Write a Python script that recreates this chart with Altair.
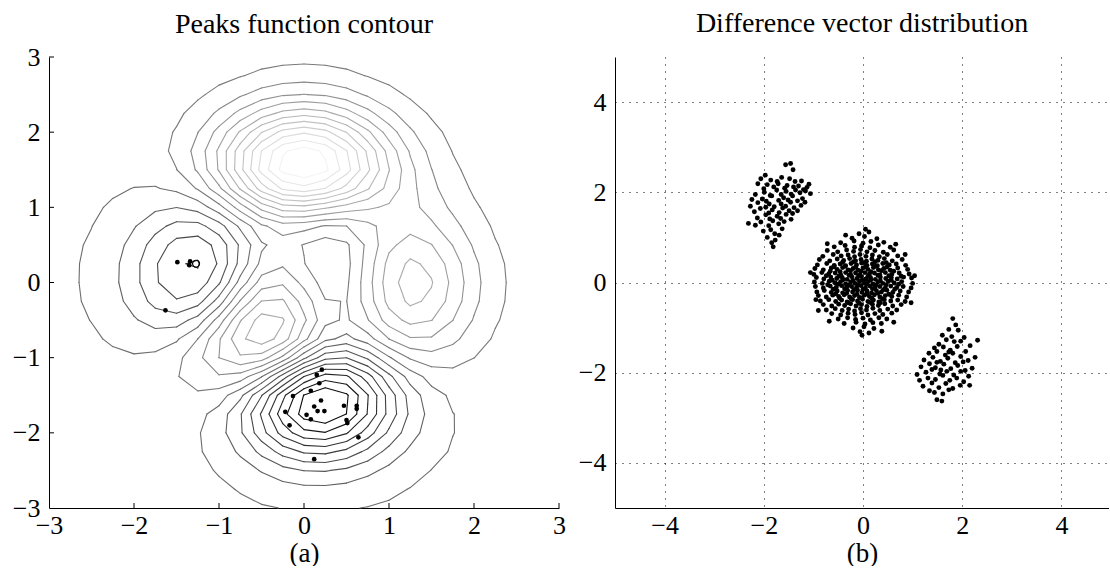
import numpy as np
import pandas as pd
import altair as alt

FONT = "Liberation Serif"

# ---------------- data ----------------
# grid coordinates of the sampled peaks surface (x and y)
GRID = [-3.0, -2.75, -2.5, -2.25, -2.0, -1.75, -1.5, -1.25, -1.0, -0.75, -0.5, -0.25,
        0.0, 0.25, 0.5, 0.75, 1.0, 1.25, 1.5, 1.75, 2.0, 2.25, 2.5, 2.75, 3.0]

# surface values, one row per y in GRID (from y=-3 up to y=3), columns follow x in GRID
PEAKS_Z = [
    [0.00, 0.00, 0.00, 0.00, 0.00, 0.01, 0.00, -0.01, -0.03, -0.08, -0.14, -0.20, -0.24, -0.25, -0.22, -0.17, -0.11, -0.06, -0.03, -0.01, -0.00, -0.00, -0.00, -0.00, -0.00],
    [0.00, 0.00, 0.00, 0.00, 0.01, 0.01, 0.00, -0.02, -0.10, -0.22, -0.39, -0.56, -0.68, -0.69, -0.61, -0.46, -0.30, -0.17, -0.08, -0.03, -0.01, -0.00, -0.00, -0.00, -0.00],
    [0.00, 0.00, 0.00, 0.01, 0.01, 0.02, 0.00, -0.07, -0.23, -0.53, -0.92, -1.31, -1.57, -1.60, -1.41, -1.06, -0.69, -0.38, -0.18, -0.08, -0.03, -0.01, -0.00, -0.00, -0.00],
    [0.00, 0.00, 0.01, 0.01, 0.03, 0.04, 0.01, -0.12, -0.44, -0.99, -1.74, -2.51, -3.02, -3.10, -2.72, -2.05, -1.32, -0.73, -0.35, -0.14, -0.05, -0.01, -0.00, 0.00, 0.00],
    [0.00, 0.00, 0.01, 0.02, 0.05, 0.07, 0.05, -0.13, -0.59, -1.45, -2.64, -3.88, -4.76, -4.93, -4.35, -3.27, -2.10, -1.15, -0.53, -0.20, -0.06, -0.01, 0.00, 0.00, 0.00],
    [0.00, 0.00, 0.01, 0.03, 0.07, 0.13, 0.15, 0.02, -0.46, -1.48, -3.00, -4.70, -5.97, -6.33, -5.64, -4.24, -2.69, -1.42, -0.61, -0.20, -0.04, 0.00, 0.01, 0.00, 0.00],
    [-0.00, 0.00, 0.01, 0.03, 0.08, 0.19, 0.33, 0.39, 0.15, -0.68, -2.19, -4.08, -5.68, -6.33, -5.76, -4.32, -2.63, -1.27, -0.44, -0.07, 0.04, 0.05, 0.03, 0.01, 0.00],
    [-0.00, -0.01, -0.01, -0.01, 0.03, 0.17, 0.45, 0.84, 1.11, 0.88, -0.14, -1.84, -3.60, -4.60, -4.40, -3.22, -1.74, -0.56, 0.08, 0.27, 0.23, 0.13, 0.06, 0.02, 0.01],
    [-0.01, -0.02, -0.06, -0.10, -0.13, -0.04, 0.30, 0.98, 1.86, 2.45, 2.22, 1.00, -0.72, -2.02, -2.22, -1.43, -0.27, 0.58, 0.88, 0.77, 0.50, 0.26, 0.11, 0.04, 0.01],
    [-0.02, -0.05, -0.12, -0.25, -0.42, -0.51, -0.28, 0.49, 1.78, 3.09, 3.63, 2.94, 1.40, -0.00, -0.41, 0.20, 1.18, 1.79, 1.78, 1.35, 0.82, 0.41, 0.18, 0.06, 0.02],
    [-0.03, -0.08, -0.20, -0.44, -0.80, -1.16, -1.21, -0.60, 0.80, 2.49, 3.55, 3.30, 2.00, 0.70, 0.39, 1.14, 2.20, 2.76, 2.56, 1.87, 1.12, 0.56, 0.24, 0.09, 0.03],
    [-0.03, -0.10, -0.27, -0.60, -1.14, -1.78, -2.16, -1.84, -0.57, 1.23, 2.56, 2.63, 1.58, 0.53, 0.48, 1.50, 2.76, 3.37, 3.09, 2.25, 1.34, 0.67, 0.28, 0.10, 0.03],
    [-0.04, -0.11, -0.30, -0.69, -1.33, -2.14, -2.77, -2.71, -1.65, 0.06, 1.48, 1.75, 0.98, 0.19, 0.37, 1.57, 2.94, 3.58, 3.27, 2.37, 1.41, 0.70, 0.30, 0.11, 0.03],
    [-0.04, -0.11, -0.29, -0.67, -1.32, -2.16, -2.87, -2.98, -2.15, -0.65, 0.68, 1.06, 0.52, -0.03, 0.28, 1.47, 2.76, 3.36, 3.06, 2.22, 1.32, 0.66, 0.28, 0.10, 0.03],
    [-0.03, -0.09, -0.25, -0.57, -1.12, -1.85, -2.49, -2.64, -2.00, -0.76, 0.39, 0.80, 0.46, 0.09, 0.38, 1.34, 2.38, 2.83, 2.56, 1.84, 1.09, 0.54, 0.23, 0.08, 0.03],
    [-0.02, -0.07, -0.18, -0.42, -0.82, -1.33, -1.76, -1.78, -1.16, -0.05, 1.04, 1.55, 1.42, 1.12, 1.17, 1.65, 2.17, 2.32, 1.99, 1.40, 0.82, 0.40, 0.17, 0.06, 0.02],
    [-0.01, -0.04, -0.11, -0.25, -0.48, -0.74, -0.86, -0.60, 0.23, 1.51, 2.79, 3.59, 3.69, 3.34, 2.93, 2.66, 2.43, 2.08, 1.58, 1.04, 0.58, 0.28, 0.11, 0.04, 0.01],
    [-0.01, -0.02, -0.06, -0.12, -0.20, -0.23, -0.05, 0.55, 1.69, 3.29, 4.92, 6.07, 6.39, 5.94, 5.02, 3.97, 2.97, 2.09, 1.35, 0.79, 0.41, 0.19, 0.07, 0.03, 0.01],
    [-0.00, -0.01, -0.02, -0.03, -0.01, 0.11, 0.48, 1.27, 2.61, 4.37, 6.20, 7.54, 8.00, 7.48, 6.25, 4.72, 3.25, 2.05, 1.19, 0.62, 0.29, 0.12, 0.05, 0.02, 0.00],
    [-0.00, -0.00, -0.00, 0.01, 0.07, 0.24, 0.65, 1.43, 2.67, 4.29, 5.96, 7.22, 7.67, 7.19, 5.99, 4.45, 2.96, 1.78, 0.96, 0.47, 0.21, 0.08, 0.03, 0.01, 0.00],
    [0.00, 0.00, 0.01, 0.02, 0.08, 0.23, 0.55, 1.16, 2.10, 3.31, 4.56, 5.51, 5.86, 5.50, 4.57, 3.37, 2.21, 1.29, 0.68, 0.32, 0.13, 0.05, 0.02, 0.00, 0.00],
    [0.00, 0.00, 0.00, 0.02, 0.06, 0.15, 0.36, 0.74, 1.32, 2.07, 2.84, 3.43, 3.65, 3.43, 2.84, 2.09, 1.36, 0.79, 0.41, 0.19, 0.08, 0.03, 0.01, 0.00, 0.00],
    [0.00, 0.00, 0.00, 0.01, 0.03, 0.08, 0.19, 0.39, 0.69, 1.07, 1.47, 1.77, 1.88, 1.77, 1.47, 1.08, 0.70, 0.40, 0.20, 0.09, 0.04, 0.01, 0.00, 0.00, 0.00],
    [0.00, 0.00, 0.00, 0.00, 0.01, 0.04, 0.08, 0.17, 0.30, 0.46, 0.64, 0.77, 0.82, 0.77, 0.64, 0.47, 0.30, 0.17, 0.09, 0.04, 0.02, 0.01, 0.00, 0.00, 0.00],
    [0.00, 0.00, 0.00, 0.00, 0.01, 0.01, 0.03, 0.06, 0.11, 0.17, 0.23, 0.28, 0.30, 0.28, 0.23, 0.17, 0.11, 0.06, 0.03, 0.01, 0.01, 0.00, 0.00, 0.00, 0.00],
]
N_LEVELS = 20

# sample points drawn on the contour panel
LEFT_DOTS = [(-1.49, 0.27), (-1.34, 0.28), (-1.35, 0.23), (-1.63, -0.37),
             (0.21, -1.16), (0.15, -1.23), (0.18, -1.34), (0.08, -1.44), (-0.13, -1.51),
             (0.20, -1.57), (0.12, -1.65), (0.47, -1.64), (0.62, -1.64), (0.62, -1.68),
             (-0.22, -1.72), (0.16, -1.71), (0.24, -1.71), (0.03, -1.76), (0.08, -1.82),
             (0.50, -1.83), (0.51, -1.87), (-0.17, -1.90), (0.64, -2.06), (0.12, -2.35)]
LEFT_OPEN = [(-1.27, 0.25)]

# difference vectors, three clusters
CLUSTER_CENTER = [
    (0.05, 1.18), (-0.08, 1.08), (0.12, 1.12), (-0.22, 0.98), (0.03, 1.02), (0.28, 0.97),
    (-0.45, 0.88), (-0.18, 0.92), (0.00, 0.87), (0.16, 0.91), (0.42, 0.89),
    (-0.58, 0.79), (-0.36, 0.82), (-0.17, 0.78), (-0.03, 0.81), (0.14, 0.77), (0.31, 0.83), (0.55, 0.78),
    (-0.72, 0.71), (-0.51, 0.68), (-0.33, 0.72), (-0.19, 0.69), (-0.05, 0.73), (0.08, 0.68), (0.24, 0.71), (0.41, 0.67), (0.62, 0.72),
    (-0.81, 0.58), (-0.60, 0.62), (-0.44, 0.59), (-0.30, 0.61), (-0.17, 0.57), (-0.06, 0.62), (0.06, 0.58), (0.19, 0.61), (0.33, 0.57), (0.49, 0.62), (0.70, 0.59),
    (-0.88, 0.51), (-0.67, 0.48), (-0.52, 0.52), (-0.39, 0.49), (-0.27, 0.53), (-0.15, 0.48), (-0.04, 0.51), (0.07, 0.47), (0.18, 0.52), (0.30, 0.49), (0.43, 0.53), (0.59, 0.48), (0.79, 0.51),
    (-0.92, 0.39), (-0.73, 0.42), (-0.58, 0.38), (-0.46, 0.41), (-0.35, 0.37), (-0.24, 0.42), (-0.13, 0.39), (-0.03, 0.43), (0.08, 0.38), (0.19, 0.41), (0.29, 0.37), (0.40, 0.42), (0.53, 0.39), (0.67, 0.41), (0.86, 0.38),
    (-0.97, 0.31), (-0.80, 0.28), (-0.64, 0.32), (-0.52, 0.29), (-0.41, 0.33), (-0.30, 0.28), (-0.20, 0.31), (-0.10, 0.27), (0.00, 0.32), (0.10, 0.29), (0.21, 0.33), (0.31, 0.28), (0.42, 0.31), (0.55, 0.27), (0.70, 0.32), (0.90, 0.29),
    (-0.99, 0.18), (-0.83, 0.22), (-0.69, 0.19), (-0.56, 0.21), (-0.45, 0.17), (-0.35, 0.22), (-0.25, 0.18), (-0.15, 0.21), (-0.06, 0.17), (0.04, 0.22), (0.13, 0.19), (0.23, 0.21), (0.34, 0.17), (0.45, 0.22), (0.58, 0.18), (0.73, 0.21), (0.93, 0.19),
    (-0.94, 0.11), (-0.79, 0.08), (-0.65, 0.12), (-0.53, 0.09), (-0.42, 0.11), (-0.32, 0.07), (-0.22, 0.12), (-0.12, 0.09), (-0.03, 0.13), (0.06, 0.08), (0.15, 0.11), (0.25, 0.07), (0.35, 0.12), (0.46, 0.09), (0.57, 0.11), (0.69, 0.08), (0.82, 0.12), (0.98, 0.10),
    (-0.98, 0.01), (-0.82, -0.02), (-0.68, 0.03), (-0.56, -0.01), (-0.45, 0.02), (-0.35, -0.03), (-0.25, 0.01), (-0.16, -0.02), (-0.07, 0.03), (0.02, -0.01), (0.11, 0.02), (0.20, -0.03), (0.30, 0.01), (0.40, -0.02), (0.51, 0.03), (0.63, -0.01), (0.78, 0.02), (1.00, -0.02),
    (-0.96, -0.09), (-0.80, -0.12), (-0.66, -0.08), (-0.54, -0.11), (-0.43, -0.07), (-0.33, -0.12), (-0.23, -0.09), (-0.13, -0.11), (-0.04, -0.07), (0.05, -0.12), (0.14, -0.08), (0.24, -0.11), (0.34, -0.09), (0.45, -0.12), (0.56, -0.08), (0.68, -0.11), (0.81, -0.09), (0.97, -0.12),
    (-0.93, -0.21), (-0.78, -0.18), (-0.64, -0.22), (-0.52, -0.19), (-0.41, -0.23), (-0.31, -0.18), (-0.21, -0.21), (-0.11, -0.17), (-0.02, -0.22), (0.08, -0.19), (0.17, -0.23), (0.27, -0.18), (0.37, -0.21), (0.48, -0.17), (0.60, -0.22), (0.75, -0.19), (0.92, -0.21),
    (-0.90, -0.29), (-0.74, -0.32), (-0.61, -0.28), (-0.49, -0.31), (-0.38, -0.27), (-0.27, -0.32), (-0.17, -0.29), (-0.07, -0.33), (0.03, -0.28), (0.13, -0.31), (0.23, -0.27), (0.34, -0.32), (0.45, -0.29), (0.58, -0.31), (0.72, -0.28), (0.88, -0.32),
    (-0.86, -0.41), (-0.69, -0.38), (-0.55, -0.42), (-0.43, -0.39), (-0.32, -0.43), (-0.21, -0.38), (-0.11, -0.41), (-0.01, -0.37), (0.10, -0.42), (0.21, -0.39), (0.32, -0.43), (0.43, -0.38), (0.56, -0.41), (0.70, -0.39), (0.85, -0.42),
    (-0.80, -0.49), (-0.63, -0.52), (-0.49, -0.48), (-0.37, -0.51), (-0.25, -0.47), (-0.14, -0.52), (-0.03, -0.49), (0.08, -0.53), (0.19, -0.48), (0.31, -0.51), (0.44, -0.47), (0.60, -0.52), (0.77, -0.49),
    (-0.74, -0.61), (-0.56, -0.58), (-0.42, -0.62), (-0.29, -0.59), (-0.17, -0.63), (-0.05, -0.58), (0.07, -0.61), (0.20, -0.57), (0.34, -0.62), (0.50, -0.59), (0.68, -0.61),
    (-0.63, -0.69), (-0.45, -0.72), (-0.30, -0.68), (-0.16, -0.71), (-0.03, -0.67), (0.10, -0.72), (0.24, -0.69), (0.40, -0.71), (0.58, -0.68),
    (-0.50, -0.81), (-0.31, -0.78), (-0.15, -0.82), (0.00, -0.79), (0.15, -0.83), (0.32, -0.78), (0.48, -0.81),
    (-0.38, -0.91), (-0.14, -0.88), (0.04, -0.92), (0.20, -0.89), (0.37, -0.91),
    (-0.20, -1.01), (0.02, -0.98), (0.22, -1.02), (-0.06, -1.09), (0.12, -1.12), (-0.02, -1.17),
    # denser core
    (-0.41, 0.45), (-0.19, 0.46), (0.02, 0.44), (0.24, 0.46), (0.47, 0.44),
    (-0.58, 0.35), (-0.36, 0.36), (-0.15, 0.34), (0.05, 0.35), (0.26, 0.36), (0.48, 0.34),
    (-0.66, 0.25), (-0.46, 0.24), (-0.25, 0.26), (-0.04, 0.25), (0.16, 0.24), (0.37, 0.26), (0.62, 0.25),
    (-0.74, 0.15), (-0.49, 0.14), (-0.28, 0.16), (-0.09, 0.15), (0.10, 0.14), (0.30, 0.16), (0.52, 0.15), (0.77, 0.14),
    (-0.62, 0.05), (-0.40, 0.06), (-0.20, 0.04), (-0.01, 0.05), (0.16, 0.06), (0.35, 0.04), (0.57, 0.05),
    (-0.71, -0.05), (-0.50, -0.04), (-0.29, -0.06), (-0.10, -0.05), (0.07, -0.04), (0.26, -0.06), (0.47, -0.05), (0.72, -0.04),
    (-0.60, -0.15), (-0.37, -0.14), (-0.18, -0.16), (0.00, -0.15), (0.19, -0.14), (0.41, -0.16), (0.64, -0.15),
    (-0.55, -0.25), (-0.33, -0.24), (-0.12, -0.26), (0.08, -0.25), (0.30, -0.24), (0.52, -0.26),
    (-0.47, -0.35), (-0.24, -0.36), (-0.03, -0.34), (0.18, -0.35), (0.39, -0.36),
    (-0.30, -0.45), (-0.08, -0.46), (0.14, -0.44), (0.35, -0.45),
    # scattered outer points
    (-1.06, 0.22), (1.04, 0.15), (-0.95, -0.38), (0.97, -0.45), (-0.72, 0.86), (0.66, 0.85),
    (-0.68, -0.86), (0.62, -0.88), (-0.35, 1.05), (0.38, -1.08), (0.85, 0.62), (-0.90, -0.62),
]
CLUSTER_UPPER_LEFT = [
    (-1.56, 2.61), (-1.46, 2.64), (-1.41, 2.50), (-2.06, 2.30), (-1.97, 2.38), (-2.12, 2.19), (-1.86, 2.27),
    (-1.73, 2.24), (-1.64, 2.33), (-1.48, 2.30), (-1.37, 2.24), (-1.24, 2.25), (-1.09, 2.18),
    (-2.00, 2.08), (-1.93, 2.17), (-1.80, 2.12), (-1.71, 2.19), (-1.58, 2.09), (-1.53, 2.15), (-1.40, 2.12),
    (-1.30, 2.14), (-1.20, 2.06), (-1.13, 2.11),
    (-2.17, 1.95), (-1.99, 2.00), (-1.87, 1.93), (-1.74, 2.05), (-1.65, 1.95), (-1.55, 2.02), (-1.45, 1.96),
    (-1.36, 2.05), (-1.27, 1.99), (-1.16, 2.03), (-1.06, 1.97),
    (-2.24, 1.84), (-2.03, 1.85), (-1.95, 1.80), (-1.84, 1.92), (-1.70, 1.82), (-1.60, 1.88), (-1.51, 1.83),
    (-1.42, 1.92), (-1.32, 1.81), (-1.22, 1.86), (-1.17, 1.78),
    (-2.27, 1.69), (-2.12, 1.77), (-1.96, 1.67), (-1.89, 1.74), (-1.79, 1.68), (-1.65, 1.74), (-1.56, 1.69),
    (-1.46, 1.78), (-1.39, 1.66), (-1.25, 1.71),
    (-2.19, 1.57), (-2.07, 1.64), (-1.90, 1.54), (-1.83, 1.61), (-1.69, 1.55), (-1.62, 1.65), (-1.49, 1.59),
    (-1.42, 1.53), (-1.32, 1.59),
    (-2.13, 1.43), (-1.96, 1.50), (-1.88, 1.41), (-1.73, 1.47), (-1.66, 1.42), (-1.55, 1.51), (-1.45, 1.40),
    (-2.31, 1.31), (-2.17, 1.27), (-2.06, 1.34), (-1.90, 1.26), (-1.82, 1.37), (-1.70, 1.30), (-1.59, 1.35),
    (-2.01, 1.14), (-1.86, 1.17), (-1.78, 1.08), (-1.63, 1.19),
    (-1.93, 1.00), (-1.77, 0.94), (-1.69, 1.05), (-1.84, 0.88), (-1.81, 0.79),
]
CLUSTER_LOWER_RIGHT = [
    (1.81, -0.80), (1.87, -0.94), (1.73, -1.04), (1.92, -1.06), (1.60, -1.17), (1.79, -1.20), (2.04, -1.22),
    (2.31, -1.28), (2.16, -1.40), (1.97, -1.30), (1.84, -1.31), (1.68, -1.27), (1.53, -1.37), (1.44, -1.45),
    (1.62, -1.43), (1.76, -1.50), (1.90, -1.42), (2.07, -1.53), (2.26, -1.66), (1.33, -1.57), (1.49, -1.53),
    (1.66, -1.61), (1.81, -1.57), (1.97, -1.64), (2.12, -1.73),
    (1.23, -1.72), (1.41, -1.66), (1.56, -1.75), (1.71, -1.68), (1.86, -1.78), (2.02, -1.76), (1.17, -1.87),
    (1.34, -1.80), (1.46, -1.89), (1.63, -1.81), (1.77, -1.91), (1.91, -1.84), (2.06, -1.95), (2.20, -1.90),
    (1.09, -2.04), (1.27, -1.99), (1.39, -1.93), (1.55, -2.03), (1.69, -1.97), (1.83, -2.05), (1.97, -1.97),
    (2.13, -2.08), (1.14, -2.17), (1.31, -2.12), (1.46, -2.15), (1.61, -2.06), (1.75, -2.17), (1.89, -2.12),
    (2.03, -2.20), (2.15, -2.28),
    (1.21, -2.30), (1.39, -2.23), (1.53, -2.33), (1.67, -2.24), (1.81, -2.35), (1.96, -2.28), (1.44, -2.44),
    (1.61, -2.47), (1.73, -2.38), (1.49, -2.60), (1.59, -2.63), (1.34, -2.40), (1.57, -1.94), (1.49, -1.77),
    (1.73, -1.54),
]

LEFT_TICKS = [-3, -2, -1, 0, 1, 2, 3]
RIGHT_TICKS = [-4, -2, 0, 2, 4]

# ---------------- contour segments (marching squares on the grid) ----------------
Z = np.array(PEAKS_Z, dtype=float)
g = np.array(GRID, dtype=float)
zmin, zmax = Z.min(), Z.max()
levels = np.linspace(zmin, zmax, N_LEVELS + 2)[1:-1]

rows = []
for k, L in enumerate(levels, start=1):
    v = int(round(255 * k / (N_LEVELS + 1)))
    col = f"#{v:02x}{v:02x}{v:02x}"
    for j in range(len(g) - 1):
        for i in range(len(g) - 1):
            corners = [(Z[j, i], (g[i], g[j])), (Z[j, i + 1], (g[i + 1], g[j])),
                       (Z[j + 1, i + 1], (g[i + 1], g[j + 1])), (Z[j + 1, i], (g[i], g[j + 1]))]
            pts = {}
            for e in range(4):
                za, pa = corners[e]
                zb, pb = corners[(e + 1) % 4]
                if (za > L) != (zb > L):
                    t = (L - za) / (zb - za)
                    pts[e] = (pa[0] + t * (pb[0] - pa[0]), pa[1] + t * (pb[1] - pa[1]))
            pairs = []
            if len(pts) == 2:
                a, b = list(pts.keys())
                pairs = [(a, b)]
            elif len(pts) == 4:
                c = sum(cz for cz, _ in corners) / 4.0
                if (corners[0][0] > L) == (c > L):
                    pairs = [(0, 1), (2, 3)]
                else:
                    pairs = [(0, 3), (1, 2)]
            for a, b in pairs:
                rows.append({"x": pts[a][0], "y": pts[a][1], "x2": pts[b][0], "y2": pts[b][1],
                             "c": col, "lev": k})
seg_df = pd.DataFrame(rows)

ldots = pd.DataFrame(LEFT_DOTS, columns=["x", "y"])
lopen = pd.DataFrame(LEFT_OPEN, columns=["x", "y"])
rpts = pd.DataFrame(CLUSTER_CENTER + CLUSTER_UPPER_LEFT + CLUSTER_LOWER_RIGHT, columns=["x", "y"])

# ---------------- chart ----------------
LW, LH = 510, 451
RW, RH = 494, 451
TICK = 5

axis_style = dict(domainColor="#000000", domainWidth=1, tickSize=0, labelFont=FONT,
                  labelFontSize=26, labelColor="#000000", labelFlush=False, labelOverlap=False,
                  titleFont=FONT, titleFontSize=27, titleFontWeight="normal", titleColor="#000000")

lx_scale = alt.Scale(domain=[-3, 3], nice=False, zero=False)
ly_scale = alt.Scale(domain=[-3, 3], nice=False, zero=False)
lx_axis = alt.Axis(values=LEFT_TICKS, format="d", labelPadding=4, titlePadding=2, grid=False, **axis_style)
ly_axis = alt.Axis(values=LEFT_TICKS, format="d", labelPadding=9, title=None, grid=False, **axis_style)

LX = alt.X("x:Q", scale=lx_scale, axis=lx_axis, title="(a)")
LY = alt.Y("y:Q", scale=ly_scale, axis=ly_axis, title=None)

contour = alt.Chart(seg_df).mark_rule(strokeWidth=1.1, strokeCap="round").encode(
    x=LX, y=LY, x2="x2:Q", y2="y2:Q", color=alt.Color("c:N", scale=None)
)
dots = alt.Chart(ldots).mark_circle(size=22, color="#000000", opacity=1).encode(x=LX, y=LY)
opendot = alt.Chart(lopen).mark_point(shape="circle", filled=False, size=48, color="#000000",
                                      strokeWidth=1.2, opacity=1).encode(x=LX, y=LY)
xticks = alt.Chart(pd.DataFrame({"x": LEFT_TICKS[1:]})).mark_rule(color="#000000", strokeWidth=1).encode(
    x=LX, y=alt.value(LH), y2=alt.value(LH - TICK)
)
yticks = alt.Chart(pd.DataFrame({"y": LEFT_TICKS[1:]})).mark_rule(color="#000000", strokeWidth=1).encode(
    y=LY, x=alt.value(0), x2=alt.value(TICK)
)

title_style = dict(font=FONT, fontSize=28, fontWeight="normal", color="#000000", anchor="middle")

left = alt.layer(contour, dots, opendot, xticks, yticks).properties(
    width=LW, height=LH,
    title=alt.TitleParams("Peaks function contour", offset=5, **title_style),
)

rx_scale = alt.Scale(domain=[-5, 4.96], nice=False, zero=False)
ry_scale = alt.Scale(domain=[-5, 5], nice=False, zero=False)
grid_style = dict(grid=True, gridColor="#000000", gridDash=[1, 6], gridWidth=1, gridOpacity=1)
rx_axis = alt.Axis(values=RIGHT_TICKS, format="d", labelPadding=4, titlePadding=2, **grid_style, **axis_style)
ry_axis = alt.Axis(values=RIGHT_TICKS, format="d", labelPadding=9, title=None, **grid_style, **axis_style)

right = alt.Chart(rpts).mark_circle(size=24, color="#000000", opacity=1).encode(
    x=alt.X("x:Q", scale=rx_scale, axis=rx_axis, title="(b)"),
    y=alt.Y("y:Q", scale=ry_scale, axis=ry_axis, title=None),
).properties(
    width=RW, height=RH,
    title=alt.TitleParams("Difference vector distribution", offset=19, **title_style),
)

chart = alt.HConcatChart(hconcat=[left, right], spacing=56, bounds="flush").properties(
    padding={"left": 12, "top": 10, "right": 0, "bottom": 0}
).configure_view(stroke=None)

chart.save("out.html", embed_options={"renderer": "svg", "actions": False})
